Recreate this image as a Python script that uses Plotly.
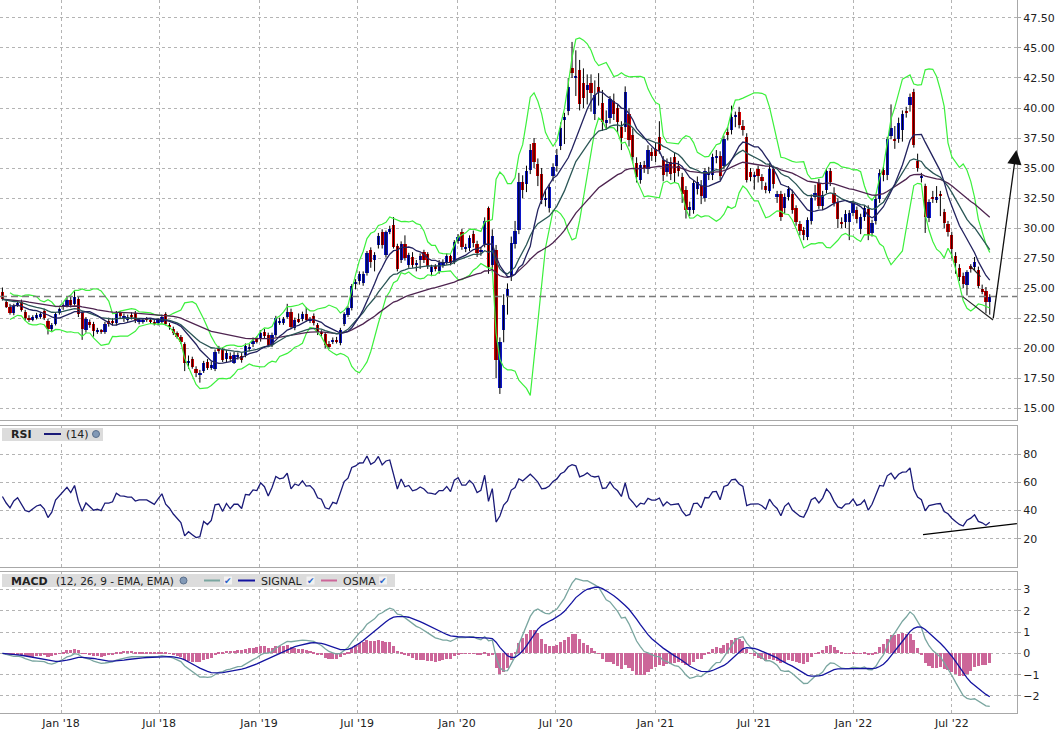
import numpy as np
import pandas as pd
import plotly.graph_objects as go
from plotly.subplots import make_subplots

# weekly candles, Sep 2017 - Sep 2022
dates = pd.date_range("2017-09-15", periods=261, freq="W-FRI")

opens = [
    24.72, 23.89, 23.47, 22.92, 23.61, 23.86, 23.06, 22.56, 22.42, 22.56,
    22.64, 23.11, 22.28, 21.58, 22.03, 22.97, 23.47, 23.56, 24.03, 23.69,
    24.08, 22.97, 21.53, 22.22, 22.03, 21.39, 21.47, 21.39, 22.31, 22.25,
    22.08, 22.92, 22.42, 22.36, 22.78, 22.92, 22.22, 22.22, 22.47, 22.36,
    22.22, 22.08, 22.22, 22.86, 21.94, 21.61, 21.25, 20.97, 20.36, 18.81,
    19.08, 18.28, 17.78, 18.14, 18.89, 18.36, 18.28, 20.00, 19.86, 19.08,
    19.36, 18.81, 19.25, 19.36, 19.44, 19.92, 20.33, 20.75, 20.75, 21.39,
    21.11, 20.28, 21.11, 22.14, 22.14, 22.64, 23.06, 21.67, 22.42, 22.42,
    22.86, 22.28, 22.69, 21.94, 21.33, 21.19, 20.33, 20.56, 20.69, 20.42,
    22.03, 22.78, 23.33, 25.31, 25.56, 25.42, 26.25, 28.14, 27.36, 28.58,
    29.64, 27.78, 29.72, 30.28, 28.53, 27.31, 28.69, 26.94, 27.58, 26.94,
    27.31, 28.00, 27.86, 26.31, 26.81, 26.47, 26.94, 27.14, 27.64, 27.22,
    28.97, 29.72, 28.28, 28.33, 29.50, 28.70, 28.00, 28.65, 31.70, 26.94,
    28.20, 16.70, 21.50, 24.30, 26.00, 28.70, 29.85, 33.82, 33.65, 34.80,
    37.08, 35.33, 34.50, 32.35, 31.70, 34.33, 35.14, 36.83, 39.00, 39.75,
    43.36, 42.53, 43.15, 42.10, 41.53, 42.10, 39.50, 41.75, 40.40, 38.78,
    39.14, 40.58, 39.97, 38.40, 38.40, 39.50, 37.75, 35.43, 34.00, 35.28,
    34.95, 36.31, 36.55, 37.58, 35.67, 34.64, 35.47, 35.89, 35.19, 34.22,
    33.17, 31.50, 31.50, 33.25, 33.53, 32.50, 34.50, 34.44, 35.83, 36.03,
    35.19, 37.97, 38.17, 39.22, 39.64, 38.53, 37.56, 34.64, 34.22, 34.92,
    34.22, 33.53, 33.11, 34.92, 32.61, 32.81, 31.64, 32.61, 32.83, 31.64,
    30.33, 29.83, 29.28, 30.58, 32.61, 33.78, 31.83, 33.17, 34.75, 32.94,
    32.19, 30.53, 30.53, 30.53, 31.28, 31.50, 29.89, 30.94, 31.56, 29.56,
    30.61, 32.39, 34.80, 34.42, 37.67, 37.44, 37.44, 38.17, 39.78, 40.25,
    41.36, 35.56, 34.14, 33.47, 30.83, 32.58, 32.36, 32.86, 31.31, 30.36,
    29.44, 27.69, 26.72, 26.03, 25.28, 26.81, 26.75, 26.53, 24.94, 24.78,
    23.89,
]
highs = [
    25.06, 24.10, 23.70, 23.70, 23.95, 24.05, 23.20, 22.75, 22.75, 22.95,
    23.00, 23.30, 22.45, 22.10, 23.00, 23.40, 23.75, 24.30, 24.40, 24.75,
    24.30, 23.10, 22.60, 22.40, 22.20, 21.70, 21.60, 22.20, 22.55, 22.50,
    23.10, 23.10, 22.90, 22.80, 23.00, 23.10, 22.50, 22.50, 22.60, 22.50,
    22.40, 22.50, 22.80, 23.00, 22.10, 21.80, 21.40, 21.10, 20.50, 19.40,
    19.30, 18.50, 18.20, 18.95, 19.10, 18.90, 19.90, 20.20, 20.05, 19.85,
    19.65, 19.70, 19.65, 19.60, 20.40, 20.35, 20.90, 21.00, 21.50, 21.60,
    21.30, 21.30, 22.70, 22.55, 22.60, 23.70, 23.30, 22.55, 22.90, 23.05,
    23.40, 22.60, 22.90, 22.10, 21.50, 21.35, 20.60, 20.90, 20.95, 21.70,
    23.00, 23.50, 25.35, 25.75, 26.40, 26.40, 28.10, 28.40, 28.00, 29.60,
    29.90, 29.80, 30.20, 30.92, 28.70, 28.90, 29.40, 27.95, 28.00, 27.35,
    27.90, 28.20, 28.00, 26.95, 27.00, 27.35, 27.40, 27.90, 27.80, 29.00,
    29.50, 29.95, 28.70, 29.40, 29.80, 28.95, 28.40, 30.90, 31.80, 29.90,
    28.60, 20.90, 24.50, 25.40, 29.30, 30.60, 34.60, 34.40, 35.20, 37.00,
    37.50, 35.80, 35.00, 33.20, 33.70, 35.40, 36.60, 38.80, 39.60, 42.50,
    45.50, 44.80, 44.00, 43.30, 42.80, 42.80, 42.30, 42.90, 41.50, 39.80,
    41.00, 41.20, 40.30, 38.90, 41.80, 40.00, 38.30, 35.90, 35.50, 35.60,
    36.90, 36.70, 37.10, 38.90, 36.00, 35.80, 35.90, 36.30, 35.60, 34.60,
    33.50, 32.20, 34.00, 34.30, 34.00, 35.00, 35.10, 36.20, 36.50, 36.40,
    37.70, 38.40, 40.20, 39.70, 40.10, 39.00, 37.90, 35.00, 34.70, 35.20,
    34.50, 33.80, 35.40, 35.20, 33.10, 33.10, 32.90, 33.50, 33.20, 31.90,
    30.60, 30.10, 30.90, 32.80, 33.60, 34.10, 33.10, 35.00, 35.00, 33.40,
    32.50, 30.90, 31.50, 31.50, 32.30, 31.80, 31.20, 31.90, 31.90, 30.70,
    32.70, 34.90, 35.10, 37.60, 40.30, 38.50, 39.20, 39.80, 40.10, 41.20,
    41.60, 36.20, 34.60, 33.70, 32.40, 33.10, 33.50, 33.10, 31.60, 30.60,
    29.70, 28.00, 27.00, 26.30, 26.50, 27.00, 27.60, 26.80, 25.30, 25.10,
    24.50,
]
lows = [
    23.97, 23.35, 22.80, 22.75, 23.45, 23.05, 22.30, 22.20, 22.25, 22.40,
    22.45, 22.35, 21.15, 21.35, 21.90, 22.80, 23.20, 23.40, 23.40, 23.55,
    22.60, 20.70, 21.30, 21.70, 20.97, 21.20, 21.20, 21.20, 21.80, 21.90,
    21.90, 22.50, 22.20, 22.20, 22.40, 22.10, 22.00, 22.05, 22.20, 22.05,
    21.90, 21.90, 22.05, 21.90, 21.55, 21.10, 20.80, 20.35, 18.10, 18.30,
    18.30, 17.60, 17.14, 17.95, 18.20, 18.20, 18.10, 19.55, 18.85, 18.85,
    18.90, 18.70, 19.05, 18.80, 19.25, 19.75, 20.10, 20.40, 20.55, 20.85,
    20.10, 20.10, 20.95, 21.95, 21.95, 22.45, 21.60, 21.50, 22.10, 22.25,
    22.20, 22.10, 21.90, 21.10, 21.00, 20.00, 19.95, 20.35, 20.40, 20.25,
    21.85, 22.60, 23.15, 24.90, 25.30, 25.20, 26.05, 26.70, 26.40, 28.30,
    28.30, 27.55, 29.50, 28.30, 26.40, 27.10, 27.30, 26.70, 26.70, 26.40,
    26.60, 27.10, 26.60, 26.00, 26.40, 26.20, 26.70, 26.95, 26.90, 27.00,
    28.70, 28.20, 28.00, 28.10, 28.40, 27.60, 27.70, 28.40, 26.20, 26.30,
    17.50, 16.20, 20.50, 22.80, 25.60, 28.30, 29.50, 32.50, 33.00, 34.50,
    35.00, 33.50, 32.00, 31.80, 31.30, 33.90, 34.70, 36.50, 37.00, 39.40,
    42.50, 41.00, 39.80, 40.00, 40.30, 39.70, 39.00, 40.20, 38.10, 38.20,
    38.70, 39.00, 37.90, 36.50, 38.00, 36.80, 35.40, 33.80, 33.70, 34.60,
    34.50, 35.60, 35.50, 36.20, 33.90, 34.30, 34.00, 33.80, 34.30, 32.10,
    30.80, 31.00, 31.20, 32.80, 32.00, 32.20, 34.00, 34.00, 35.40, 34.00,
    34.90, 37.30, 37.80, 38.40, 38.30, 37.70, 33.80, 33.90, 33.20, 33.80,
    33.20, 32.90, 32.90, 33.30, 32.10, 30.60, 31.20, 32.30, 31.20, 30.20,
    29.40, 29.00, 29.00, 30.30, 32.30, 31.60, 31.50, 32.90, 33.50, 31.80,
    30.00, 30.00, 30.00, 29.00, 31.00, 30.40, 29.50, 30.60, 29.00, 29.30,
    30.30, 32.10, 33.90, 34.00, 37.40, 36.60, 37.10, 37.20, 39.20, 39.70,
    36.70, 34.70, 33.80, 29.60, 30.50, 32.10, 32.10, 31.00, 30.00, 29.30,
    27.50, 26.20, 25.60, 25.00, 24.40, 26.30, 26.50, 25.00, 24.50, 22.90,
    22.80,
]
closes = [
    24.08, 23.47, 22.97, 23.53, 23.81, 23.19, 22.50, 22.36, 22.58, 22.78,
    22.86, 22.50, 21.58, 21.94, 22.86, 23.25, 23.61, 24.03, 23.61, 24.31,
    22.86, 21.58, 22.42, 21.94, 21.44, 21.53, 21.36, 22.03, 22.03, 22.14,
    22.92, 22.69, 22.67, 22.58, 22.58, 22.28, 22.36, 22.36, 22.36, 22.22,
    22.08, 22.36, 22.64, 22.03, 21.75, 21.31, 20.97, 20.56, 18.75, 18.97,
    18.47, 17.92, 17.97, 18.81, 18.39, 18.64, 19.72, 19.78, 19.03, 19.64,
    19.08, 19.44, 19.44, 19.03, 20.19, 20.14, 20.61, 20.56, 21.31, 21.03,
    20.28, 21.11, 22.50, 22.31, 22.42, 23.06, 21.75, 22.36, 22.22, 22.83,
    22.36, 22.42, 22.08, 21.33, 21.19, 20.28, 20.14, 20.69, 20.56, 21.53,
    22.86, 23.33, 25.19, 25.53, 26.17, 26.19, 27.92, 27.22, 27.78, 29.36,
    28.58, 29.64, 29.92, 28.47, 26.58, 28.69, 27.50, 27.78, 26.94, 27.14,
    27.64, 27.36, 26.81, 26.75, 26.64, 27.14, 27.14, 27.69, 27.14, 28.81,
    29.25, 28.47, 28.47, 29.17, 28.80, 27.90, 28.19, 30.60, 26.80, 29.31,
    19.00, 20.50, 23.60, 24.90, 28.80, 29.80, 33.83, 33.20, 34.75, 36.50,
    35.50, 34.30, 32.33, 32.55, 33.40, 35.10, 36.11, 38.30, 39.25, 41.75,
    42.95, 42.69, 40.30, 40.86, 41.94, 41.28, 41.08, 41.36, 38.80, 38.97,
    40.72, 39.50, 38.81, 37.50, 41.35, 37.30, 35.92, 34.22, 35.28, 35.00,
    36.50, 36.03, 35.99, 36.50, 34.44, 35.33, 34.50, 34.56, 34.72, 32.83,
    31.50, 31.72, 33.72, 33.81, 32.69, 34.72, 34.64, 35.94, 36.03, 34.36,
    37.42, 37.78, 39.28, 39.42, 38.61, 38.17, 34.00, 34.28, 34.39, 34.36,
    33.94, 33.17, 34.89, 33.67, 32.83, 30.94, 32.61, 33.25, 31.50, 30.53,
    29.75, 29.42, 30.67, 32.53, 32.94, 31.83, 32.75, 34.75, 33.86, 32.11,
    30.72, 30.39, 31.14, 31.22, 32.06, 30.72, 30.94, 31.64, 29.42, 30.44,
    32.39, 34.56, 34.44, 37.39, 38.31, 37.28, 38.78, 39.50, 39.61, 40.94,
    36.92, 35.00, 34.31, 30.92, 32.14, 32.44, 32.58, 32.64, 30.42, 29.72,
    28.25, 27.08, 25.97, 25.36, 26.31, 26.64, 27.19, 25.19, 24.72, 23.89,
    24.31,
]

# hand-drawn trend lines on the chart: (date, value) pairs
wedge_low = [("2022-07-21", 24.30), ("2022-09-15", 22.36)]
wedge_high = [("2022-08-04", 26.85), ("2022-08-23", 25.96)]
arrow_tail = ("2022-09-15", 22.36)
arrow_head = ("2022-10-28", 36.50)
rsi_line = [("2022-05-09", 23.0), ("2022-10-29", 30.8)]

price_ticks = [15.0, 17.5, 20.0, 22.5, 25.0, 27.5, 30.0, 32.5, 35.0, 37.5, 40.0, 42.5, 45.0, 47.5]
rsi_ticks = [20, 40, 60, 80]
macd_ticks = [-2, -1, 0, 1, 2, 3]

# indicators
s = pd.Series(closes, index=dates)
o = np.array(opens)
c = np.array(closes)
sma10 = s.rolling(10, min_periods=3).mean()
sd10 = s.rolling(10, min_periods=3).std(ddof=1)
bb_up = sma10 + 2 * sd10
bb_lo = sma10 - 2 * sd10
ema20 = s.ewm(span=20, adjust=False).mean()
ema50 = s.ewm(span=50, adjust=False).mean()

# Wilder RSI(14), started from a neutral state (no history before the first week)
deltas = np.diff(c)
ag = al = np.mean(np.abs(deltas[:14])) / 2
rsi_vals = [50.0]
for d in deltas:
    ag = (ag * 13 + max(d, 0)) / 14
    al = (al * 13 + max(-d, 0)) / 14
    rsi_vals.append(100 - 100 / (1 + ag / al))
rsi = pd.Series(rsi_vals, index=dates)

macd = s.ewm(span=12, adjust=False).mean() - s.ewm(span=26, adjust=False).mean()
signal = macd.ewm(span=9, adjust=False).mean()
osma = macd - signal

# page geometry (plot area 1017 x 713)
W, H = 1063, 738
PW, PH = 1017, 713


def px(x):
    return x / PW


def py(y):
    return (PH - y) / PH


FONT = "DejaVu Sans"
GRID = "#b4b4b4"
FRAME = "#a8a8a8"
BLUE = "#0c16c8"
RED = "#d20000"
day = 86400000

fig = make_subplots(rows=3, cols=1, shared_xaxes=True)

# wicks
wx, wy = [], []
for d, lo, hi in zip(dates, lows, highs):
    wx += [d, d, None]
    wy += [lo, hi, None]
fig.add_trace(go.Scatter(x=wx, y=wy, mode="lines", line=dict(color="black", width=1),
                         hoverinfo="skip", showlegend=False), row=1, col=1)

# bodies
base = np.minimum(o, c)
height = np.maximum(np.abs(c - o), 0.08)
colors = np.where(c >= o, BLUE, RED)
fig.add_trace(go.Bar(x=dates, y=height, base=base, width=6 * day,
                     marker=dict(color=list(colors), line=dict(width=0)),
                     showlegend=False), row=1, col=1)

for ser, col, w in [(bb_up, "#3cf03c", 1.2), (bb_lo, "#3cf03c", 1.2),
                    (ema50, "#4e2450", 1.3), (ema20, "#2b5656", 1.3),
                    (sma10, "#23235f", 1.3)]:
    fig.add_trace(go.Scatter(x=dates, y=ser, mode="lines", line=dict(color=col, width=w),
                             hoverinfo="skip", showlegend=False), row=1, col=1)

# RSI
fig.add_trace(go.Scatter(x=dates, y=rsi, mode="lines", line=dict(color="#1a1a78", width=1.3),
                         showlegend=False), row=2, col=1)
fig.add_trace(go.Scatter(x=[p[0] for p in rsi_line], y=[p[1] for p in rsi_line], mode="lines",
                         line=dict(color="black", width=1.3), showlegend=False), row=2, col=1)

# MACD
fig.add_trace(go.Bar(x=dates, y=osma, width=5.6 * day, marker=dict(color="#cc6699", line=dict(width=0)),
                     showlegend=False), row=3, col=1)
fig.add_trace(go.Scatter(x=dates, y=macd, mode="lines", line=dict(color="#7aa6a0", width=1.3),
                         showlegend=False), row=3, col=1)
fig.add_trace(go.Scatter(x=dates, y=signal, mode="lines", line=dict(color="#1414a0", width=1.3),
                         showlegend=False), row=3, col=1)

# wedge lines
for seg in (wedge_low, wedge_high):
    fig.add_trace(go.Scatter(x=[p[0] for p in seg], y=[p[1] for p in seg], mode="lines",
                             line=dict(color="#222222", width=1.2), showlegend=False), row=1, col=1)

xrange = ["2017-09-10 13:26", "2022-10-29 05:00"]
axis_common = dict(showline=True, mirror=True, linecolor=FRAME, linewidth=1,
                   showgrid=True, gridcolor=GRID, griddash="dot", gridwidth=1, zeroline=False)
for r in (1, 2, 3):
    fig.update_xaxes(range=xrange, dtick="M6", tick0="2018-01-01", tickformat="%b '%y",
                     showticklabels=(r == 3), ticks="", rangeslider_visible=False,
                     tickfont=dict(family=FONT, size=11, color="#222"), row=r, col=1, **axis_common)

ytick = dict(side="right", ticks="outside", ticklen=3, tickcolor=FRAME,
             tickfont=dict(family=FONT, size=11, color="#222"))
fig.update_yaxes(range=[14.03, 48.99], tickvals=price_ticks, tickformat=".2f",
                 row=1, col=1, **ytick, **axis_common)
fig.update_yaxes(range=[0, 100], tickvals=rsi_ticks, row=2, col=1, **ytick, **axis_common)
fig.update_yaxes(range=[-2.8, 3.82], tickvals=macd_ticks, row=3, col=1, **ytick, **axis_common)

fig.update_layout(
    yaxis=dict(domain=[py(420), 1.0]),
    yaxis2=dict(domain=[py(567), py(426)]),
    yaxis3=dict(domain=[0.0, py(572)]),
)

shapes = [
    # last price line
    dict(type="line", xref="x domain", yref="y", x0=0, x1=1, y0=closes[-1], y1=closes[-1],
         line=dict(color="#7a7a7a", width=1.5, dash="7px,4px")),
    # header boxes
    dict(type="rect", xref="paper", yref="paper", x0=px(2), x1=px(103), y0=py(441), y1=py(428),
         fillcolor="#dcdcdc", line=dict(width=0), layer="above"),
    dict(type="rect", xref="paper", yref="paper", x0=px(2), x1=px(395), y0=py(587), y1=py(574),
         fillcolor="#dcdcdc", line=dict(width=0), layer="above"),
    # legend line samples
    dict(type="line", xref="paper", yref="paper", x0=px(44), x1=px(61), y0=py(434), y1=py(434),
         line=dict(color="#1a1a78", width=2), layer="above"),
    dict(type="line", xref="paper", yref="paper", x0=px(204), x1=px(220), y0=py(580.5), y1=py(580.5),
         line=dict(color="#7aa6a0", width=2), layer="above"),
    dict(type="line", xref="paper", yref="paper", x0=px(238), x1=px(255), y0=py(580.5), y1=py(580.5),
         line=dict(color="#1414a0", width=2), layer="above"),
    dict(type="line", xref="paper", yref="paper", x0=px(321), x1=px(337), y0=py(580.5), y1=py(580.5),
         line=dict(color="#cc6699", width=2), layer="above"),
]
# globe icons
for gx, gy in [(96, 434), (183.5, 580.5)]:
    shapes.append(dict(type="circle", xref="paper", yref="paper", x0=px(gx - 3.5), x1=px(gx + 3.5),
                       y0=py(gy + 3.5), y1=py(gy - 3.5), fillcolor="#8299b6",
                       line=dict(color="#5a6f8c", width=1), layer="above"))
# check boxes
for cx in (228, 310.5, 383):
    shapes.append(dict(type="rect", xref="paper", yref="paper", x0=px(cx - 4), x1=px(cx + 4),
                       y0=py(584.5), y1=py(576.5), fillcolor="#f2f2f2", line=dict(width=0),
                       layer="above"))


def label(x, y, text, size=11, bold=False, color="#222"):
    return dict(xref="paper", yref="paper", x=px(x), y=py(y), text=f"<b>{text}</b>" if bold else text,
                showarrow=False, xanchor="left", yanchor="middle",
                font=dict(family=FONT, size=size, color=color))


annotations = [
    label(9, 434.5, "RSI", bold=True),
    label(64, 434.5, "(14)"),
    label(9, 581, "MACD", bold=True),
    label(54, 581, "(12, 26, 9 - EMA, EMA)", size=10.5),
    label(259, 581, "SIGNAL"),
    label(341, 581, "OSMA"),
]
for cx in (228, 310.5, 383):
    annotations.append(dict(xref="paper", yref="paper", x=px(cx), y=py(580.5), text="✔",
                            showarrow=False, xanchor="center", yanchor="middle",
                            font=dict(family=FONT, size=9, color="#2a62c8")))
annotations.append(dict(x=arrow_head[0], y=arrow_head[1], ax=arrow_tail[0], ay=arrow_tail[1],
                        xref="x", yref="y", axref="x", ayref="y", showarrow=True, text="",
                        arrowhead=2, arrowsize=2.2, arrowwidth=1.3, arrowcolor="#111111"))

fig.update_layout(
    width=W, height=H,
    margin=dict(l=0, r=W - PW, t=0, b=H - PH),
    paper_bgcolor="white", plot_bgcolor="white",
    barmode="overlay", bargap=0,
    showlegend=False,
    shapes=shapes, annotations=annotations,
    font=dict(family=FONT, size=11, color="#222"),
)

fig.write_html("out.html", config={"displayModeBar": False},
               post_script="document.body.style.margin='0px';")
